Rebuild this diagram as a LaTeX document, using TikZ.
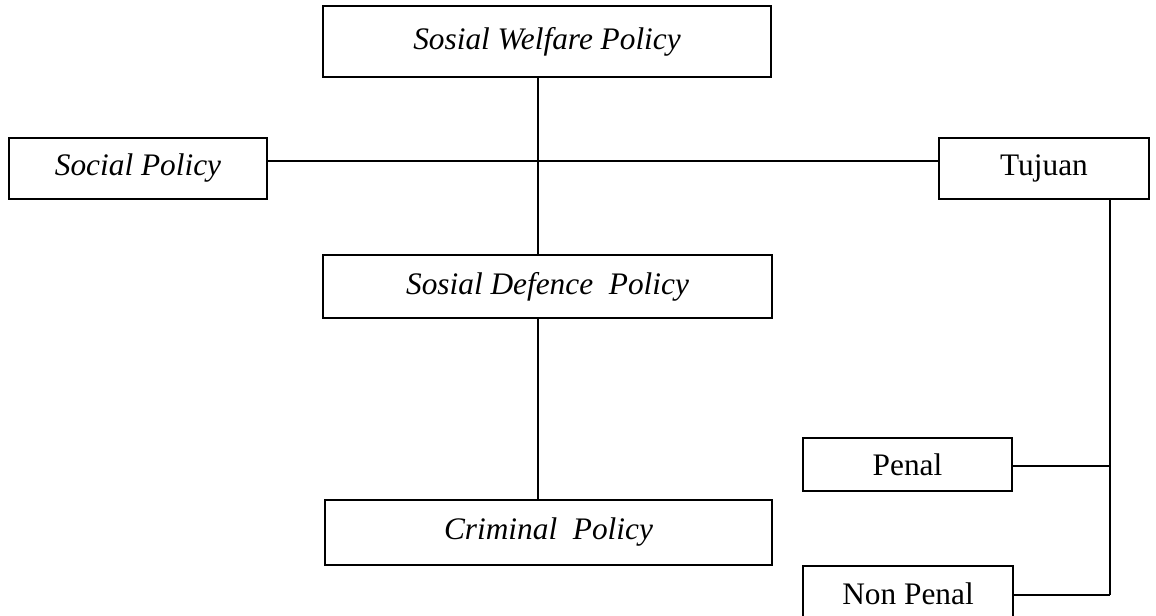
\documentclass[tikz,border=0pt]{standalone}
\usepackage{fontspec}
\setmainfont{Liberation Serif}
\begin{document}
\begin{tikzpicture}[x=0.75pt,y=-0.75pt,
  box/.style={draw=black,line width=1.5pt,inner sep=0pt,rectangle,
    font=\fontsize{23.5}{28}\selectfont},
  conn/.style={draw=black,line width=1.1pt}]
\useasboundingbox (0,0) rectangle (1156,616);
\clip (0,0) rectangle (1156,616);
\node[box,minimum width=448*0.75pt,minimum height=71*0.75pt] (welfare) at (547,41.5) {\itshape Sosial Welfare Policy};
\node[box,minimum width=258*0.75pt,minimum height=61*0.75pt] (social) at (138,168.5) {\itshape Social Policy};
\node[box,minimum width=210*0.75pt,minimum height=61*0.75pt] (tujuan) at (1044,168.5) {Tujuan};
\node[box,minimum width=449*0.75pt,minimum height=63*0.75pt] (defence) at (547.5,286.5) {\itshape Sosial Defence~ Policy};
\node[box,minimum width=447*0.75pt,minimum height=65*0.75pt] (criminal) at (548.5,532.5) {\itshape Criminal~ Policy};
\node[box,minimum width=209*0.75pt,minimum height=53*0.75pt] (penal) at (907.5,464.5) {Penal};
\node[box,minimum width=210*0.75pt,minimum height=56*0.75pt] (nonpenal) at (908,594) {Non Penal};
\coordinate (spine) at (538,0);
\coordinate (hline) at (0,161);
\coordinate (rspine) at (1110,0);
\coordinate (join) at (1110,595);
\draw[conn] (welfare.south -| spine) -- (defence.north -| spine);
\draw[conn] (defence.south -| spine) -- (criminal.north -| spine);
\draw[conn] (social.east |- hline) -- (tujuan.west |- hline);
\draw[conn] (tujuan.south -| rspine) -- (join);
\draw[conn] (penal.east |- 0,466) -- (1110,466);
\draw[conn] (nonpenal.east |- join) -- (join);
\end{tikzpicture}
\end{document}
